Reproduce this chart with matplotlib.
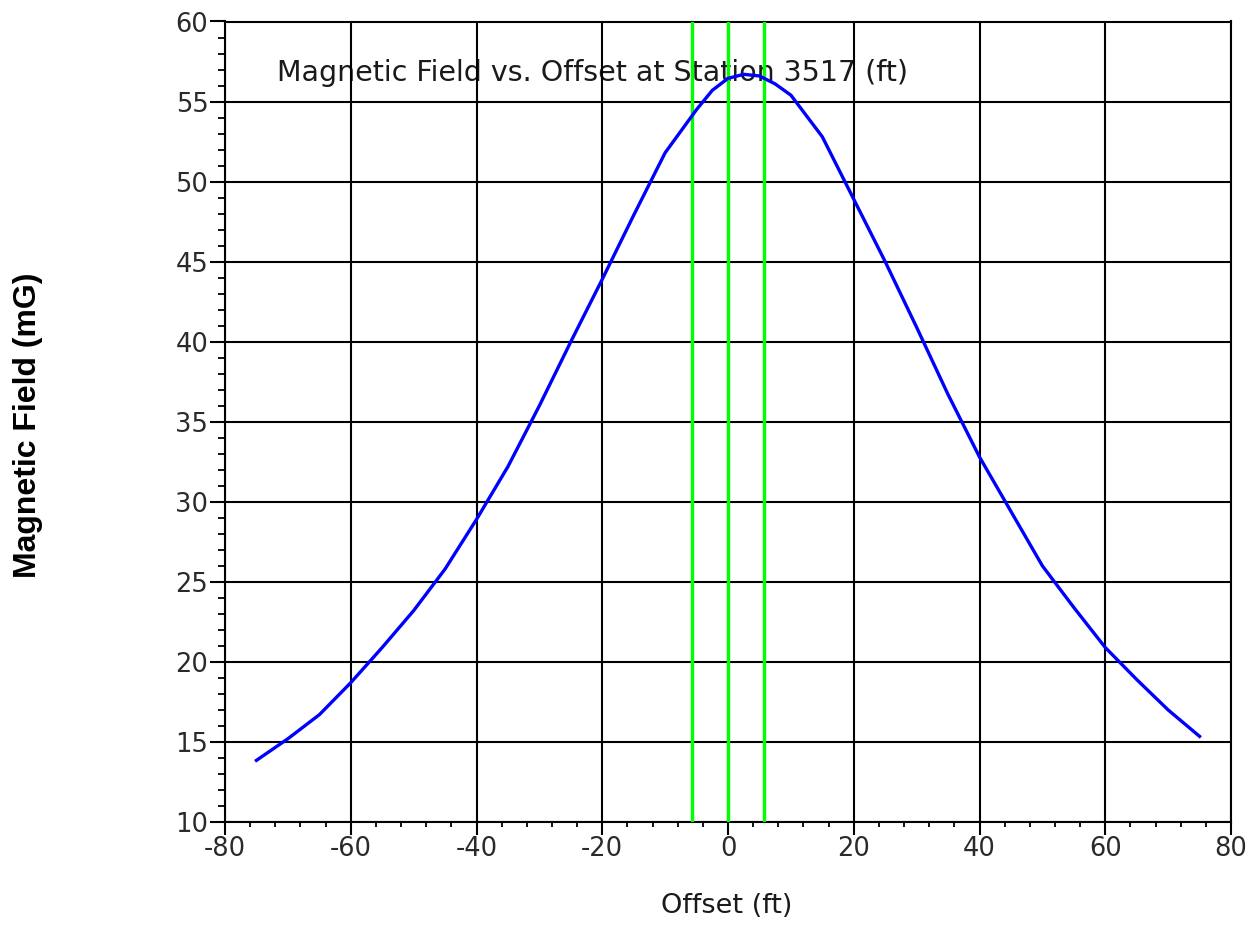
import numpy as np
import matplotlib.pyplot as plt
from matplotlib.ticker import MultipleLocator

plt.rcParams["axes.unicode_minus"] = False

# offsets (ft) and field values (mG)
offset = [-75, -70, -65, -60, -55, -50, -45, -40, -35, -30, -25, -20, -15, -10, -5, -2.5,
          0, 2.5, 5, 7.5, 10, 15, 20, 25, 30, 35, 40, 45, 50, 55, 60, 65, 70, 75]
field = [13.85, 15.2, 16.7, 18.7, 20.9, 23.2, 25.8, 28.9, 32.2, 36.0, 40.0, 43.9, 47.9, 51.8, 54.5, 55.7,
         56.45, 56.7, 56.6, 56.1, 55.4, 52.8, 48.9, 45.0, 40.9, 36.7, 32.8, 29.4, 26.0, 23.4, 20.9, 18.9, 17.0, 15.35]
# conductor / right-of-way markers
markers = [-5.75, 0, 5.75]

title = "Magnetic Field vs. Offset at Station 3517 (ft)"
font = "DejaVu Sans"

fig = plt.figure(figsize=(12.59, 9.30), dpi=100)
ax = fig.add_axes([225 / 1259, 1 - 822 / 930, 1006 / 1259, 800.5 / 930])

ax.set_xlim(-80, 80)
ax.set_ylim(10, 60)
ax.xaxis.set_major_locator(MultipleLocator(20))
ax.xaxis.set_minor_locator(MultipleLocator(4))
ax.yaxis.set_major_locator(MultipleLocator(5))
ax.yaxis.set_minor_locator(MultipleLocator(1))

ax.text(-71.7, 56.29, title, fontsize=20.5, family=font, va="baseline", ha="left",
        color="#1a1a1a", zorder=1)

ax.grid(True, which="major", color="black", linewidth=1.5, zorder=2)

for m in markers:
    ax.axvline(m, color="#00ff00", linewidth=2.4, zorder=3)

ax.plot(offset, field, color="#0000ff", linewidth=2.4, zorder=4)

for s in ax.spines.values():
    s.set_linewidth(1.5)
    s.set_color("black")

ax.tick_params(axis="both", which="major", labelsize=18.5, width=1.5, color="black")
ax.tick_params(axis="y", which="major", length=11, pad=1)
ax.tick_params(axis="y", which="minor", length=5, width=1.3)
ax.tick_params(axis="x", which="major", length=9, pad=1)
ax.tick_params(axis="x", which="minor", length=3.6, width=1.3)
for lab in ax.get_xticklabels() + ax.get_yticklabels():
    lab.set_family(font)
    lab.set_color("#2a2a2a")

fig.text(28 / 1259, 1 - 425 / 930, "Magnetic Field (mG)", rotation=90, fontsize=23,
         fontweight="bold", family="Liberation Sans", ha="center", va="center")
fig.text(727 / 1259, 1 - 913 / 930, "Offset (ft)", fontsize=19.5, family=font,
         ha="center", va="baseline", color="#1a1a1a")

fig.savefig("out.png", dpi=100)
